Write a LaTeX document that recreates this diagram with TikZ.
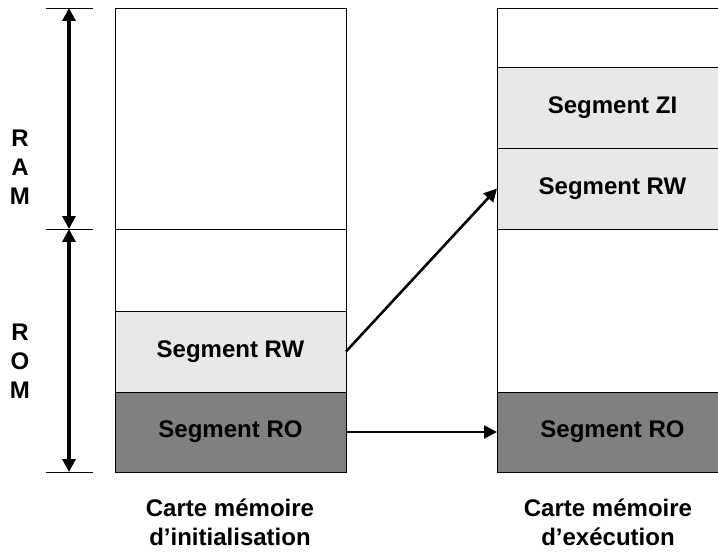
\documentclass[tikz,border=0pt]{standalone}
\usepackage{fontspec}
\setmainfont{Liberation Sans}
\usetikzlibrary{arrows.meta}

\definecolor{rwgray}{HTML}{E8E8E8}
\definecolor{rogray}{HTML}{808080}

\tikzset{
    % Memory blocks
    block/.style={draw, line width=0.85pt, anchor=north west, inner sep=0pt,
        outer sep=0pt, minimum width=6.93cm, font=\bfseries\fontsize{20.5}{24.7}\selectfont},
    seg rw/.style={block, fill=rwgray},
    seg ro/.style={block, fill=rogray},
    % Arrows
    move/.style={-{Triangle[length=11pt,width=11pt]}, line width=2.2pt},
    span/.style={{Triangle[length=11pt,width=11pt]}-{Triangle[length=11pt,width=11pt]}, line width=2.7pt},
    tick/.style={line width=0.85pt},
    % Labels
    side label/.style={align=center, font=\bfseries\fontsize{20.5}{24.7}\selectfont},
    caption/.style={align=center, font=\bfseries\fontsize{20.5}{24.7}\selectfont},
}

\begin{document}
\begin{tikzpicture}[x=0.03cm, y=-0.03cm]
    \useasboundingbox (0,0) rectangle (718,551);

    % Initial memory map
    \node[block, minimum height=6.63cm] (initfree) at (115,8) {};
    \node[block, minimum height=2.46cm] (initgap) at (115,229) {};
    \node[seg rw, minimum height=2.43cm] (initrw) at (115,311) {Segment RW};
    \node[seg ro, minimum height=2.40cm] (initro) at (115,392) {Segment RO};

    % Run-time memory map
    \node[block, minimum height=1.77cm] (runfree) at (497,8) {};
    \node[seg rw, minimum height=2.43cm] (runzi) at (497,67) {Segment ZI};
    \node[seg rw, minimum height=2.43cm] (runrw) at (497,148) {Segment RW};
    \node[block, minimum height=4.89cm] (rungap) at (497,229) {};
    \node[seg ro, minimum height=2.40cm] (runro) at (497,392) {Segment RO};

    % Copies
    \draw[move] (initrw.east) -- (runrw.west);
    \draw[move] (initro.east) -- (runro.west);

    % RAM / ROM extent
    \coordinate (ramtop) at (69,8);
    \coordinate (ramrom) at (69,229);
    \coordinate (rombot) at (69,472);
    \foreach \c in {ramtop,ramrom,rombot}
        \draw[tick] ([xshift=-0.69cm]\c) -- ([xshift=0.72cm]\c);
    \draw[span] (ramtop) -- (ramrom);
    \draw[span] (ramrom) -- (rombot);
    \node[side label] (ram) at (20,167) {R\\A\\M};
    \node[side label] (rom) at (20,361) {R\\O\\M};

    % Captions
    \node[caption] (initcap) at (230,522) {Carte mémoire\\d’initialisation};
    \node[caption] (runcap) at (608,522) {Carte mémoire\\d’exécution};
\end{tikzpicture}
\end{document}
